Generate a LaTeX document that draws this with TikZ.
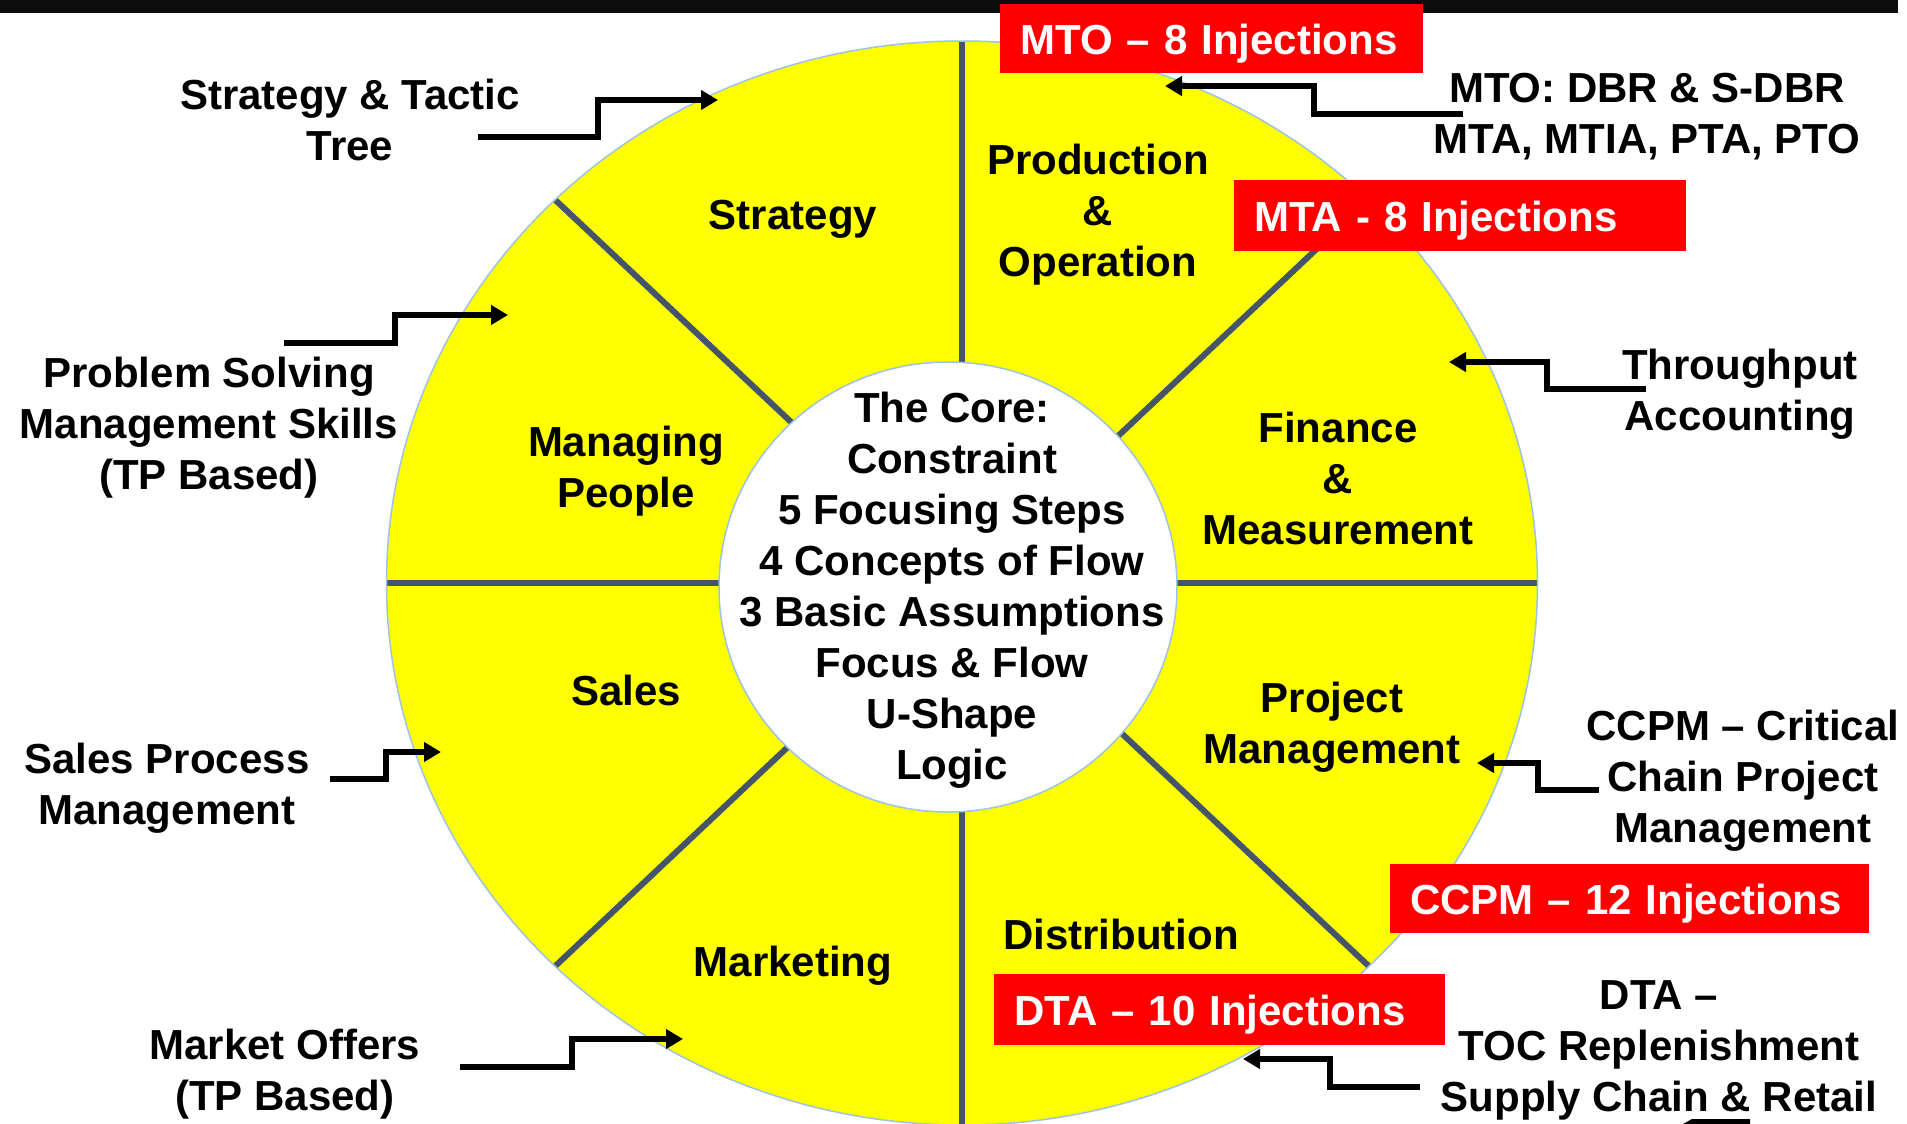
\documentclass[tikz,border=0pt]{standalone}
\usepackage{fontspec}
\setmainfont{Liberation Sans}
\usetikzlibrary{arrows.meta}
\definecolor{wheelyellow}{HTML}{FFFF00}
\definecolor{divider}{HTML}{44546A}
\definecolor{rimblue}{HTML}{9DC3E6}
\definecolor{injred}{HTML}{FF0000}
\definecolor{topbar}{HTML}{0D0D0D}
\begin{document}
\begin{tikzpicture}[x=1pt,y=-1pt,
  lbl/.style={font=\fontsize{42}{51}\selectfont\bfseries, align=center, inner sep=0pt},
  inj/.style={fill=injred, text=white, font=\fontsize{42}{51}\selectfont\bfseries,
    anchor=north west, inner xsep=20pt, inner ysep=0pt, align=left,
    text height=32pt, text depth=0pt},
  conn/.style={line width=5.5pt, -{Triangle[length=17pt,width=19pt]}},
  divline/.style={divider, line width=6pt}]
\useasboundingbox (0,0) rectangle (1907,1124);
\fill[white] (0,0) rectangle (1907,1124);
% top bar
\fill[topbar] (0,0) rectangle (1898,13);
% wheel
\coordinate (C) at (962,583);
\fill[wheelyellow] (C) ellipse[x radius=575.5pt, y radius=542pt];
\foreach \a in {0,45,...,315}
  \draw[divline] (C) -- ([shift={(C)}]\a:575.5pt and 542pt);
\draw[rimblue, line width=1.5pt] (C) ellipse[x radius=575.5pt, y radius=542pt];
\filldraw[fill=white, draw=rimblue, line width=1.5pt] (948,587) ellipse[x radius=229pt, y radius=225pt];
% core
\node[lbl] (core) at (952,590) {The Core:\\Constraint\\5 Focusing Steps\\4 Concepts of Flow\\3 Basic Assumptions\\Focus \& Flow\\U-Shape\\Logic};
% segments
\node[lbl] (strategy) at (793,219) {Strategy};
\node[lbl] (production) at (1098,215) {Production\\\&\\Operation};
\node[lbl] (managing) at (626,471) {Managing\\People};
\node[lbl] (finance) at (1338,478) {Finance\\\&\\Measurement};
\node[lbl] (sales) at (626,690) {Sales};
\node[lbl] (project) at (1332,727) {Project\\Management};
\node[lbl] (marketing) at (793,966) {Marketing};
\node[lbl] (distribution) at (1121,934) {Distribution};
% outside labels
\node[lbl] (stt) at (350,120) {Strategy \& Tactic\\Tree};
\node[lbl] (psm) at (209,428) {Problem Solving\\Management Skills\\(TP Based)};
\node[lbl] (spm) at (167,788) {Sales Process\\Management};
\node[lbl] (mko) at (285,1074) {Market Offers\\(TP Based)};
\node[lbl] (mtodbr) at (1647,117) {MTO: DBR \& S-DBR\\MTA, MTIA, PTA, PTO};
\node[lbl] (ta) at (1740,394) {Throughput\\Accounting};
\node[lbl] (ccpm) at (1743,781) {CCPM -- Critical\\Chain Project\\Management};
\node[lbl] (dta) at (1659,1050) {DTA --\\TOC Replenishment\\Supply Chain \& Retail};
% injection boxes
\node[inj, text width=383pt, minimum height=69pt] (mtoinj) at (1000,4) {MTO -- 8 Injections};
\node[inj, text width=412pt, minimum height=71pt] (mtainj) at (1234,180) {MTA - 8 Injections};
\node[inj, text width=439pt, minimum height=69pt] (ccpminj) at (1390,864) {CCPM -- 12 Injections};
\node[inj, text width=411pt, minimum height=71pt] (dtainj) at (994,974) {DTA -- 10 Injections};
% connectors
\coordinate (s1) at (478,137);  \coordinate (t1) at (718,100);
\coordinate (s2) at (284,343);  \coordinate (t2) at (508,315);
\coordinate (s3) at (330,779);  \coordinate (t3) at (441,752);
\coordinate (s4) at (460,1067); \coordinate (t4) at (683,1039);
\coordinate (s5) at (1463,114); \coordinate (t5) at (1165,86);
\coordinate (s6) at (1646,389); \coordinate (t6) at (1449,362);
\coordinate (s7) at (1599,790); \coordinate (t7) at (1477,763);
\coordinate (s8) at (1420,1087);\coordinate (t8) at (1243,1059);
\draw[conn] (s1) -- ++(120,0) |- (t1);
\draw[conn] (s2) -- ++(111,0) |- (t2);
\draw[conn] (s3) -- ++(56,0) |- (t3);
\draw[conn] (s4) -- ++(112,0) |- (t4);
\draw[conn] (s5) -- ++(-149,0) |- (t5);
\draw[conn] (s6) -- ++(-99,0) |- (t6);
\draw[conn] (s7) -- ++(-61,0) |- (t7);
\draw[conn] (s8) -- ++(-90,0) |- (t8);
% cut-off mark at bottom right
\fill[black] (1683,1124) -- (1692,1119) -- (1750,1119) -- (1750,1124) -- cycle;
\end{tikzpicture}
\end{document}
